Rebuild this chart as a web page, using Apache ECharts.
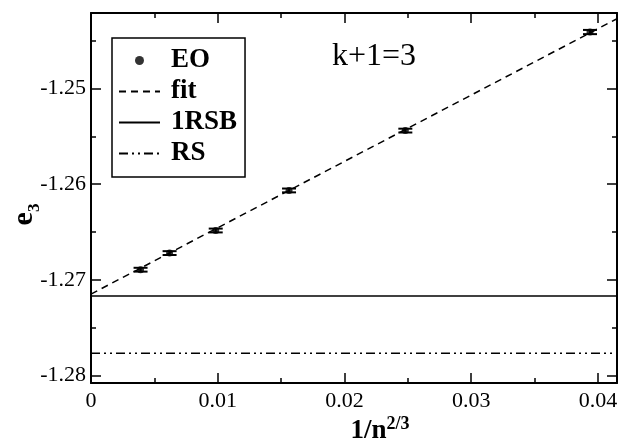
<!DOCTYPE html>
<html>
<head>
<meta charset="utf-8">
<script src="https://cdn.jsdelivr.net/npm/echarts@6/dist/echarts.min.js"></script>
<style>
  html, body { margin: 0; padding: 0; background: #fff; }
  #chart { width: 629px; height: 444px; }
</style>
</head>
<body>
<div id="chart"></div>
<script>
// 1/n^(2/3) values of the EO runs
const eoX = [0.00391, 0.0062, 0.00984, 0.015625, 0.0248, 0.03937];
const eoY = [-1.26895, -1.26721, -1.26485, -1.26066, -1.2544, -1.24409];
const eoErr = [0.0002, 0.0002, 0.0002, 0.0002, 0.0002, 0.00022];

const fitX = [0, 0.0415];
const fitY = [-1.2715, -1.2427];

const e1RSB = -1.2717;
const eRS = -1.2777;

const xRange = [0, 0.0415];
const yRange = [-1.2808, -1.2421];

const FONT = "Liberation Serif";

function isMajor(v, step) {
  const r = v / step;
  return Math.abs(r - Math.round(r)) < 1e-6;
}

function pairs(xs, ys) {
  return xs.map((x, i) => [x, ys[i]]);
}

function axisX(position, step, tickLen, withLabels) {
  return {
    type: "value",
    position: position,
    min: xRange[0],
    max: xRange[1],
    minInterval: step,
    maxInterval: step,
    splitLine: { show: false },
    axisLine: { show: withLabels, onZero: false, lineStyle: { color: "#000", width: 2 } },
    axisTick: { show: true, inside: true, length: tickLen, lineStyle: { color: "#000", width: 1.5 } },
    axisLabel: {
      show: withLabels && position === "bottom",
      margin: 7,
      color: "#000",
      fontFamily: FONT,
      fontSize: 22,
      formatter: v => (isMajor(v, 0.01) ? String(+v.toFixed(4)) : "")
    }
  };
}

function axisY(position, step, tickLen, withLabels) {
  return {
    type: "value",
    position: position,
    min: yRange[0],
    max: yRange[1],
    minInterval: step,
    maxInterval: step,
    splitLine: { show: false },
    axisLine: { show: withLabels, onZero: false, lineStyle: { color: "#000", width: 2 } },
    axisTick: { show: true, inside: true, length: tickLen, lineStyle: { color: "#000", width: 1.5 } },
    axisLabel: {
      show: withLabels && position === "left",
      margin: 5,
      color: "#000",
      fontFamily: FONT,
      fontSize: 22,
      formatter: v => (isMajor(v, 0.01) ? v.toFixed(2) : "")
    }
  };
}

const chart = echarts.init(document.getElementById("chart"), null, { renderer: "canvas" });

const xBottom = axisX("bottom", 0.01, 10, true);
xBottom.name = "{a|1/n}{b|2/3}";
xBottom.nameLocation = "middle";
xBottom.nameGap = 32;
xBottom.nameMoveOverlap = false;
xBottom.nameTextStyle = {
  padding: [0, 0, 0, 52],
  rich: {
    a: { fontFamily: FONT, fontWeight: "bold", fontSize: 27, color: "#000", verticalAlign: "bottom", lineHeight: 30 },
    b: { fontFamily: FONT, fontWeight: "bold", fontSize: 18, color: "#000", verticalAlign: "top", lineHeight: 30 }
  }
};

const yLeft = axisY("left", 0.01, 10, true);
yLeft.name = "{a|e}{b|3}";
yLeft.nameLocation = "middle";
yLeft.nameGap = 48;
yLeft.nameMoveOverlap = false;
yLeft.nameTextStyle = {
  padding: [0, 33, 0, 0],
  rich: {
    a: { fontFamily: FONT, fontWeight: "bold", fontSize: 30, color: "#000", verticalAlign: "top", lineHeight: 34 },
    b: { fontFamily: FONT, fontWeight: "bold", fontSize: 17, color: "#000", verticalAlign: "bottom", lineHeight: 34 }
  }
};

const lineLegendItem = name => ({ name: name, itemStyle: { opacity: 0 } });

const option = {
  animation: false,
  backgroundColor: "#fff",
  grid: { left: 91, right: 12, top: 13, bottom: 61, containLabel: false, outerBoundsMode: "none" },
  xAxis: [xBottom, axisX("bottom", 0.005, 5, false), axisX("top", 0.01, 10, true), axisX("top", 0.005, 5, false)],
  yAxis: [yLeft, axisY("left", 0.005, 5, false), axisY("right", 0.01, 10, true), axisY("right", 0.005, 5, false)],
  legend: {
    orient: "vertical",
    left: 112,
    top: 38,
    data: ["EO", lineLegendItem("fit"), lineLegendItem("1RSB"), lineLegendItem("RS")],
    itemWidth: 41,
    itemHeight: 9,
    itemGap: 4,
    padding: [9, 8, 10, 6],
    borderColor: "#000",
    borderWidth: 1.5,
    borderRadius: 0,
    selectedMode: false,
    textStyle: { fontFamily: FONT, fontWeight: "bold", fontSize: 27, color: "#000", padding: [0, 0, 0, 6] }
  },
  graphic: [
    {
      type: "text",
      left: 332,
      top: 41,
      style: { text: "k+1=3", font: "32px 'Liberation Serif'", fill: "#000" }
    }
  ],
  series: [
    {
      name: "1RSB",
      type: "line",
      data: [[xRange[0], e1RSB], [xRange[1], e1RSB]],
      symbol: "none",
      lineStyle: { color: "#000", width: 1.5, type: "solid" },
      itemStyle: { color: "#000" }
    },
    {
      name: "RS",
      type: "line",
      data: [[xRange[0], eRS], [xRange[1], eRS]],
      symbol: "none",
      lineStyle: { color: "#000", width: 1.5, type: [9, 4, 2, 4, 2, 4] },
      itemStyle: { color: "#000" }
    },
    {
      name: "fit",
      type: "line",
      data: pairs(fitX, fitY),
      symbol: "none",
      lineStyle: { color: "#000", width: 1.5, type: [7, 5] },
      itemStyle: { color: "#000" }
    },
    {
      name: "EO err",
      type: "custom",
      z: 5,
      data: eoX.map((x, i) => [x, eoY[i], eoErr[i]]),
      renderItem: function (params, api) {
        const x = api.value(0), y = api.value(1), e = api.value(2);
        const hi = api.coord([x, y + e]);
        const lo = api.coord([x, y - e]);
        const w = 7;
        const st = { stroke: "#000", lineWidth: 2 };
        return {
          type: "group",
          children: [
            { type: "line", shape: { x1: hi[0], y1: hi[1], x2: lo[0], y2: lo[1] }, style: st },
            { type: "line", shape: { x1: hi[0] - w, y1: hi[1], x2: hi[0] + w, y2: hi[1] }, style: st },
            { type: "line", shape: { x1: lo[0] - w, y1: lo[1], x2: lo[0] + w, y2: lo[1] }, style: st }
          ]
        };
      }
    },
    {
      name: "EO",
      type: "scatter",
      z: 6,
      data: pairs(eoX, eoY),
      symbol: "circle",
      symbolSize: 7,
      itemStyle: { color: "#000" }
    }
  ]
};

chart.setOption(option);
</script>
</body>
</html>
